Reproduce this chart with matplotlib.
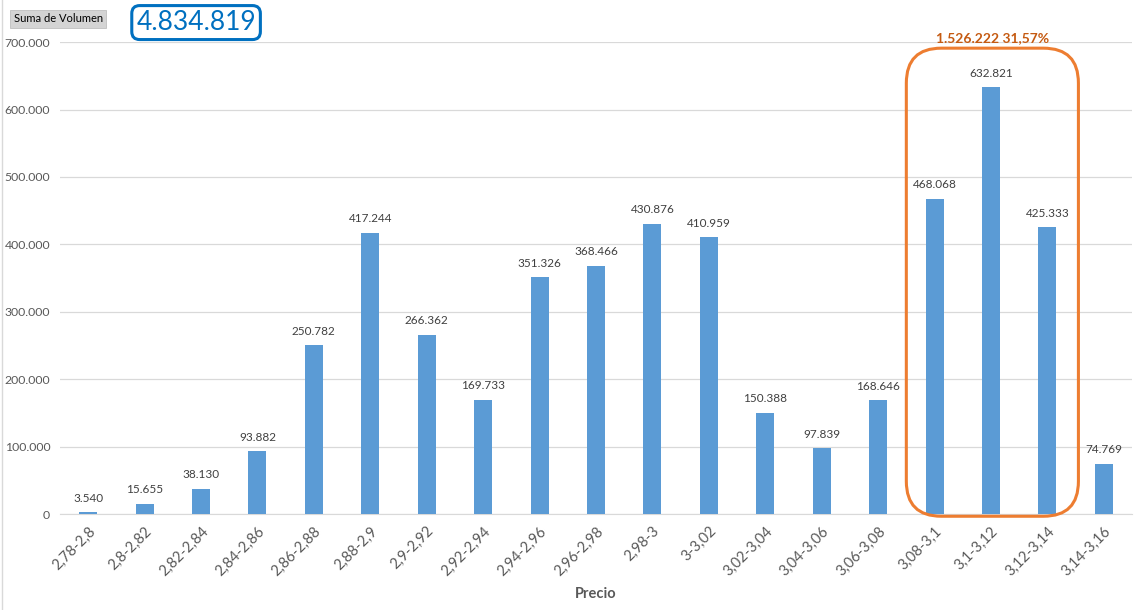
import matplotlib
matplotlib.use("Agg")
import matplotlib.pyplot as plt
from matplotlib.patches import FancyBboxPatch
from matplotlib.lines import Line2D
from matplotlib.ticker import FuncFormatter

plt.rcParams['font.family'] = ['Lato', 'DejaVu Sans']

# Price ranges and traded volume per range
categories = ['2,78-2,8', '2,8-2,82', '2,82-2,84', '2,84-2,86', '2,86-2,88',
              '2,88-2,9', '2,9-2,92', '2,92-2,94', '2,94-2,96', '2,96-2,98',
              '2,98-3', '3-3,02', '3,02-3,04', '3,04-3,06', '3,06-3,08',
              '3,08-3,1', '3,1-3,12', '3,12-3,14', '3,14-3,16']
volumes = [3540, 15655, 38130, 93882, 250782, 417244, 266362, 169733, 351326,
           368466, 430876, 410959, 150388, 97839, 168646, 468068, 632821,
           425333, 74769]
highlight = [15, 16, 17]   # indices inside the orange box

bar_color = '#5B9BD5'
orange = '#ED7D31'
text_gray = '#595959'


def miles(v):
    # spanish thousands separator
    return f"{int(round(v)):,}".replace(',', '.')


fig = plt.figure(figsize=(11.4, 6.1), dpi=100)
ax = fig.add_axes([0.0526, 0.157, 0.9404, 0.774])

x = list(range(len(categories)))
ax.bar(x, volumes, width=0.32, color=bar_color, zorder=3)

for xi, v in zip(x, volumes):
    ax.annotate(miles(v), (xi, v), xytext=(0, 6), textcoords='offset points',
                ha='center', va='bottom', fontsize=8.5, color='#404040')

ax.set_xlim(-0.5, len(categories) - 0.5)
ax.set_ylim(0, 700000)
ax.set_yticks(range(0, 700001, 100000))
ax.yaxis.set_major_formatter(FuncFormatter(lambda v, p: miles(v)))
ax.set_xticks(x)
ax.set_xticklabels(categories, rotation=45, ha='right', rotation_mode='anchor')
ax.tick_params(axis='both', length=0, colors=text_gray)
ax.tick_params(axis='x', pad=7, labelsize=10.5)
ax.tick_params(axis='y', pad=7, labelsize=8.8)
ax.grid(axis='y', color='#D9D9D9', linewidth=0.9, zorder=0)
for s in ['top', 'right', 'left']:
    ax.spines[s].set_visible(False)
ax.spines['bottom'].set_color('#D9D9D9')
ax.set_xlabel('Precio', fontsize=10.5, fontweight='bold', color=text_gray, labelpad=6)

# orange rounded box around the highlighted bars
x0 = highlight[0] - 0.5
x1 = highlight[-1] + 0.55
y0, y1 = -3000, 691000
box = FancyBboxPatch((x0, y0), x1 - x0, y1 - y0,
                     boxstyle='round,pad=0,rounding_size=0.62',
                     mutation_aspect=83600, fill=False, edgecolor=orange,
                     linewidth=2.2, clip_on=False, zorder=4)
ax.add_patch(box)

total = sum(volumes)
sub = sum(volumes[i] for i in highlight)
pct = f"{100 * sub / total:.2f}".replace('.', ',')
ax.text((x0 + x1) / 2, 706000, f"{miles(sub)} {pct}%", ha='center', va='center',
        fontsize=10, fontweight='bold', color='#C55A11', clip_on=False)

# header: field button and total
fig.text(0.012, 0.969, 'Suma de Volumen', fontsize=8, color='#000000', va='center',
         bbox=dict(boxstyle='square,pad=0.3', facecolor='#D4D4D4', edgecolor='#BFBFBF', linewidth=0.6))
fig.text(0.172, 0.963, miles(total), fontsize=19, color='#0070C0', ha='center', va='center',
         bbox=dict(boxstyle='round,pad=0.17,rounding_size=0.3', facecolor='white',
                   edgecolor='#0070C0', linewidth=2.2))

fig.add_artist(Line2D([0.002, 0.002], [0, 1], color='#D9D9D9', linewidth=1,
                      transform=fig.transFigure))

fig.savefig('out.png', dpi=100)
